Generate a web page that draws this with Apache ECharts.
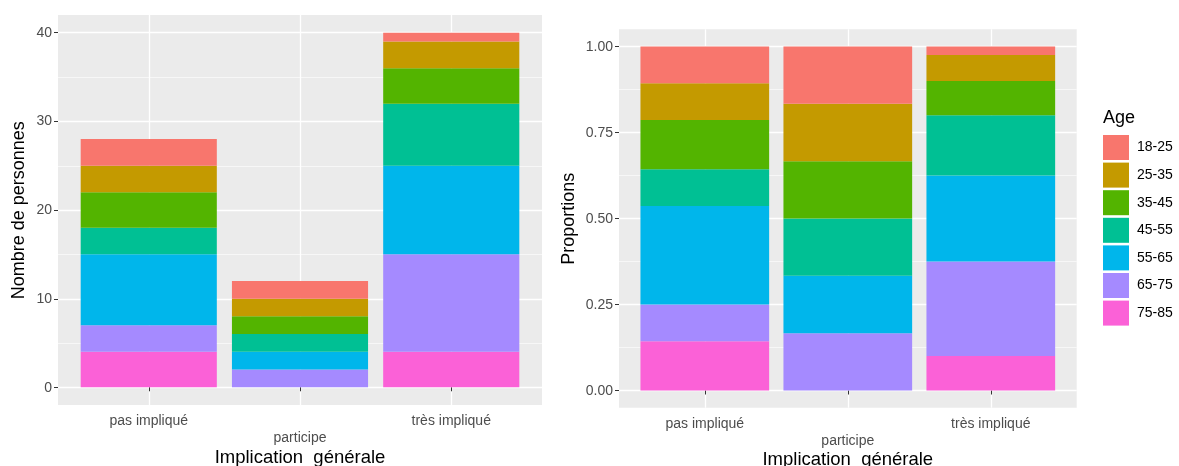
<!DOCTYPE html>
<html><head><meta charset="utf-8">
<script src="https://cdn.jsdelivr.net/npm/echarts@6.0.0/dist/echarts.min.js"></script>
<style>html,body{margin:0;padding:0;background:#fff}#c{width:1179px;height:466px}</style>
</head><body><div id="c"></div>
<script>
// ---- data ----
const categories = ['pas impliqué', 'participe', 'très impliqué'];
const ageGroups = ['18-25', '25-35', '35-45', '45-55', '55-65', '65-75', '75-85'];

// counts (left panel)
const cnt1825 = [3, 2, 1];
const cnt2535 = [3, 2, 3];
const cnt3545 = [4, 2, 4];
const cnt4555 = [3, 2, 7];
const cnt5565 = [8, 2, 10];
const cnt6575 = [3, 2, 11];
const cnt7585 = [4, 0, 4];

// proportions (right panel)
const prop1825 = [0.107, 0.1667, 0.025];
const prop2535 = [0.107, 0.1667, 0.075];
const prop3545 = [0.143, 0.1666, 0.100];
const prop4555 = [0.107, 0.1667, 0.175];
const prop5565 = [0.286, 0.1666, 0.250];
const prop6575 = [0.107, 0.1667, 0.275];
const prop7585 = [0.143, 0.0000, 0.100];

// ---- styles ----
const ageColors = ['#F8766D', '#C49A00', '#53B400', '#00C094', '#00B6EB', '#A58AFF', '#FB61D7'];
const FONT = "'Liberation Sans', Arial, sans-serif";

const countSeries = [cnt1825, cnt2535, cnt3545, cnt4555, cnt5565, cnt6575, cnt7585];
const propSeries = [prop1825, prop2535, prop3545, prop4555, prop5565, prop6575, prop7585];

const chart = echarts.init(document.getElementById('c'), null, {renderer: 'canvas'});

function bgGrid(l, t, w, h) {
  return {left: l, top: t, width: w, height: h, show: true, backgroundColor: '#EBEBEB', borderWidth: 0, outerBoundsMode: 'none', z: -1};
}
function plainGrid(l, t, w, h) {
  return {left: l, top: t, width: w, height: h, show: false, outerBoundsMode: 'none'};
}
const hiddenAxis = (gi) => ({gridIndex: gi, type: 'value', show: false});

function yLabelAxis(gi, min, max, interval, name, gap, fmt) {
  return {
    gridIndex: gi, type: 'value', min: min, max: max, interval: interval,
    axisLine: {show: false},
    axisTick: {show: true, length: 4, lineStyle: {color: '#333333', width: 1}},
    axisLabel: {color: '#4D4D4D', fontSize: 14, fontFamily: FONT, margin: 6, formatter: fmt},
    splitLine: {show: true, lineStyle: {color: '#FFFFFF', width: 1.3}},
    minorTick: {show: false, splitNumber: 2},
    minorSplitLine: {show: true, lineStyle: {color: '#FFFFFF', width: 0.6}},
    name: name, nameLocation: 'middle', nameRotate: 90, nameGap: gap,
    nameMoveOverlap: false,
    nameTextStyle: {color: '#000000', fontSize: 18, fontFamily: FONT}
  };
}
function xCatAxis(gi) {
  return {
    gridIndex: gi, type: 'category', data: categories, boundaryGap: false,
    axisLine: {show: false},
    axisTick: {show: true, length: 4, interval: 0, lineStyle: {color: '#333333', width: 1}},
    axisLabel: {color: '#4D4D4D', fontSize: 14, fontFamily: FONT, margin: 8, interval: 0, lineHeight: 17,
      formatter: (v, i) => (i % 2 === 1 ? '\n' + v : v)},
    splitLine: {show: true, interval: 0, lineStyle: {color: '#FFFFFF', width: 1.3}},
    name: 'Implication_générale', nameLocation: 'middle', nameGap: 43,
    nameMoveOverlap: false,
    nameTextStyle: {color: '#000000', fontSize: 18.5, fontFamily: FONT}
  };
}

const series = [];
for (let i = ageGroups.length - 1; i >= 0; i--) {
  series.push({
    name: ageGroups[i], type: 'bar', xAxisIndex: 2, yAxisIndex: 2, stack: 'L',
    data: countSeries[i], barWidth: '90%', clip: false,
    itemStyle: {color: ageColors[i]}, emphasis: {disabled: true}
  });
  series.push({
    name: ageGroups[i], type: 'bar', xAxisIndex: 5, yAxisIndex: 5, stack: 'R',
    data: propSeries[i], barWidth: '90%', clip: false,
    itemStyle: {color: ageColors[i]}, emphasis: {disabled: true}
  });
}

chart.setOption({
  animation: false,
  backgroundColor: '#FFFFFF',
  textStyle: {fontFamily: FONT},
  title: {text: 'Age', left: 1103, top: 109, padding: 0,
    textStyle: {fontSize: 18, fontWeight: 'normal', color: '#000000', fontFamily: FONT}},
  legend: {
    data: ageGroups, orient: 'vertical', left: 1103, top: 135, padding: 0,
    itemWidth: 26, itemHeight: 25, itemGap: 2.6, icon: 'rect',
    itemStyle: {borderWidth: 0},
    textStyle: {fontSize: 14, color: '#000000', fontFamily: FONT, padding: [0, 0, 0, 3]},
    selectedMode: false
  },
  grid: [
    bgGrid(58, 15, 484, 390),
    plainGrid(58, 32.7, 484, 355),
    plainGrid(148.75, 15, 302.5, 390),
    bgGrid(619, 29.3, 457.7, 378.4),
    plainGrid(619, 46.7, 457.7, 344),
    plainGrid(704.8, 29.3, 286, 378.4)
  ],
  xAxis: [
    hiddenAxis(0), hiddenAxis(1), xCatAxis(2),
    hiddenAxis(3), hiddenAxis(4), xCatAxis(5)
  ],
  yAxis: [
    hiddenAxis(0),
    yLabelAxis(1, 0, 40, 10, 'Nombre de personnes', 30, (v) => String(v)),
    {gridIndex: 2, type: 'value', min: -2, max: 42, show: false},
    hiddenAxis(3),
    yLabelAxis(4, 0, 1, 0.25, 'Proportions', 41, (v) => v.toFixed(2)),
    {gridIndex: 5, type: 'value', min: -0.05, max: 1.05, show: false}
  ],
  series: series
});
</script>
</body></html>
